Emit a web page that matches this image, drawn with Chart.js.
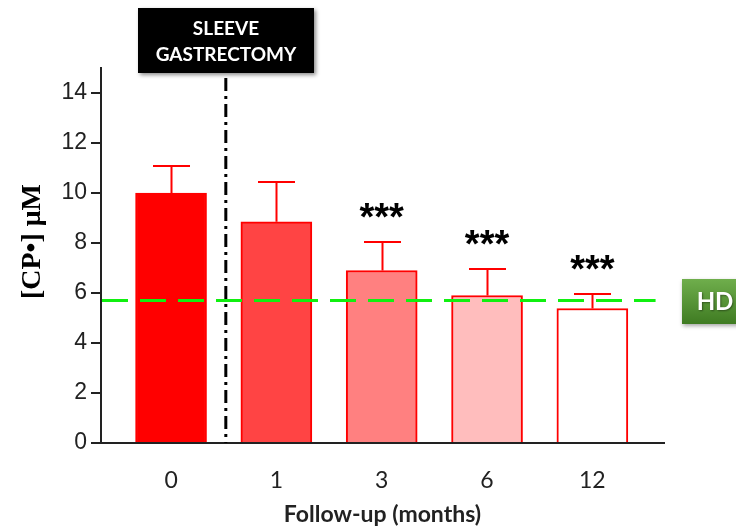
<!DOCTYPE html>
<html>
<head>
<meta charset="utf-8">
<script src="https://cdn.jsdelivr.net/npm/chart.js@4.4.1/dist/chart.umd.min.js"></script>
<style>
  html, body { margin: 0; padding: 0; background: #fff; }
  #wrap { width: 736px; height: 528px; }
</style>
</head>
<body>
<div id="wrap"><canvas id="chart" width="736" height="528"></canvas></div>
<script>
// Follow-up after sleeve gastrectomy
const months = ['0', '1', '3', '6', '12'];
const meanValues = [10.0, 8.85, 6.9, 5.9, 5.38];
const errorTops = [11.1, 10.45, 8.05, 6.95, 5.98];
const barColors = ['#ff0000', '#ff4444', '#ff8080', '#ffbdbd', '#ffffff'];
const stars = ['', '', '***', '***', '***'];
const yTicks = [0, 2, 4, 6, 8, 10, 12, 14];

// reference levels
const hdLevel = 5.7;
const hdLineEnd = 4.6;
const surgeryAt = 0.52;
const surgeryLineTop = 14.6;

const extras = {
    id: 'extras',
    afterDatasetsDraw(chart) {
        const { ctx, scales: { x, y } } = chart;
        ctx.save();

        // error bars
        ctx.strokeStyle = '#ff0000';
        ctx.lineWidth = 2;
        meanValues.forEach((v, i) => {
            const px = Math.round(x.getPixelForValue(i)) + 0.5;
            const top = Math.round(y.getPixelForValue(errorTops[i]));
            const barTop = y.getPixelForValue(v);
            ctx.beginPath();
            ctx.moveTo(px, barTop);
            ctx.lineTo(px, top);
            ctx.moveTo(px - 18.5, top);
            ctx.lineTo(px + 18.5, top);
            ctx.stroke();
        });

        // healthy donors level
        ctx.strokeStyle = '#10f010';
        ctx.lineWidth = 3;
        ctx.setLineDash([26, 12]);
        const hy = y.getPixelForValue(hdLevel);
        ctx.beginPath();
        ctx.moveTo(x.left + 1, hy);
        ctx.lineTo(x.getPixelForValue(hdLineEnd), hy);
        ctx.stroke();

        // surgery separator
        ctx.strokeStyle = '#000';
        ctx.lineWidth = 3;
        ctx.setLineDash([13, 5, 3, 5]);
        const sx = x.getPixelForValue(surgeryAt);
        ctx.beginPath();
        ctx.moveTo(sx, y.getPixelForValue(surgeryLineTop));
        ctx.lineTo(sx, y.getPixelForValue(0));
        ctx.stroke();
        ctx.setLineDash([]);

        // significance
        ctx.fillStyle = '#000';
        ctx.font = 'bold 38px "Liberation Sans"';
        ctx.textAlign = 'center';
        ctx.textBaseline = 'alphabetic';
        stars.forEach((s, i) => {
            if (!s) return;
            ctx.fillText(s, x.getPixelForValue(i), y.getPixelForValue(errorTops[i]) - 12);
        });
        ctx.restore();
    },
    afterDraw(chart) {
        const { ctx } = chart;
        ctx.save();

        // "SLEEVE GASTRECTOMY" box
        ctx.shadowColor = 'rgba(0,0,0,0.45)';
        ctx.shadowBlur = 4;
        ctx.shadowOffsetX = 2;
        ctx.shadowOffsetY = 2;
        ctx.fillStyle = '#000';
        ctx.fillRect(138, 8, 176, 65);
        ctx.shadowColor = 'transparent';
        ctx.fillStyle = '#fff';
        ctx.font = 'bold 19px Lato';
        ctx.textAlign = 'center';
        ctx.textBaseline = 'middle';
        ctx.fillText('SLEEVE', 226, 29);
        ctx.fillText('GASTRECTOMY', 226, 55);

        // "HD" box
        ctx.shadowColor = 'rgba(0,0,0,0.35)';
        ctx.shadowBlur = 4;
        ctx.shadowOffsetX = 1;
        ctx.shadowOffsetY = 2;
        const g = ctx.createLinearGradient(0, 279, 0, 324);
        g.addColorStop(0, '#6fae4c');
        g.addColorStop(1, '#3f7b22');
        ctx.fillStyle = g;
        ctx.fillRect(682, 279, 60, 45);
        ctx.shadowColor = 'rgba(0,0,0,0.4)';
        ctx.shadowBlur = 2;
        ctx.shadowOffsetX = 1;
        ctx.shadowOffsetY = 1;
        ctx.fillStyle = '#fff';
        ctx.font = 'bold 24px Lato';
        ctx.fillText('HD', 715, 302);
        ctx.restore();
    }
};

const ctx = document.getElementById('chart').getContext('2d');
new Chart(ctx, {
    type: 'bar',
    data: {
        datasets: [{
            data: meanValues.map((v, i) => ({ x: i, y: v })),
            backgroundColor: barColors,
            borderColor: '#ff0000',
            borderWidth: 2,
            barThickness: 71
        }]
    },
    options: {
        responsive: false,
        animation: false,
        devicePixelRatio: 1,
        layout: { padding: { top: 68, right: 72, left: 0, bottom: 0 } },
        plugins: {
            legend: { display: false },
            tooltip: { enabled: false }
        },
        scales: {
            x: {
                type: 'linear',
                offset: false,
                min: -0.665,
                max: 4.68,
                afterBuildTicks: scale => { scale.ticks = months.map((m, i) => ({ value: i })); },
                afterFit: scale => { scale.height = 85; },
                grid: { display: false, drawTicks: false },
                border: { display: true, color: '#222', width: 2 },
                ticks: {
                    autoSkip: false,
                    maxRotation: 0,
                    padding: 24,
                    color: '#222',
                    font: { family: 'Lato', size: 23 },
                    callback: v => months[v]
                },
                title: {
                    display: true,
                    text: 'Follow-up (months)',
                    color: '#222',
                    font: { family: 'Lato', size: 23, weight: 'bold' },
                    padding: { top: 0, bottom: 0 }
                }
            },
            y: {
                min: 0,
                max: 15,
                afterBuildTicks: scale => { scale.ticks = yTicks.map(v => ({ value: v })); },
                afterFit: scale => { scale.width = 101; },
                grid: { drawOnChartArea: false, drawTicks: true, tickLength: 10, color: '#222', lineWidth: 2 },
                border: { display: true, color: '#222', width: 2 },
                ticks: {
                    padding: 4,
                    color: '#222',
                    font: { family: 'Liberation Sans', size: 23 }
                },
                title: {
                    display: true,
                    text: '\u00a0\u00a0\u00a0\u00a0[CP\u2022] \u03bcM',
                    color: '#000',
                    font: { family: 'Liberation Serif', size: 28, weight: 'bold' },
                    padding: { top: 16, bottom: 0 }
                }
            }
        }
    },
    plugins: [extras]
});
</script>
</body>
</html>
